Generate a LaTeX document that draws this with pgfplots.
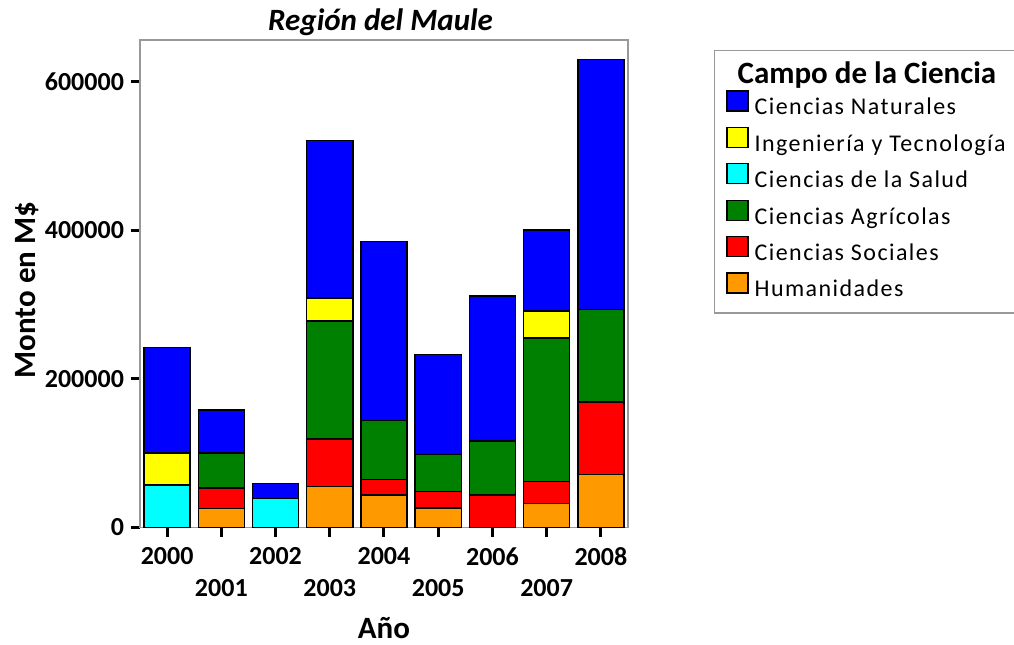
\documentclass[border=0pt]{standalone}
\usepackage{fontspec}
\setmainfont{Carlito}
\newfontfamily\legfont[LetterSpace=6]{Carlito}
\usepackage{pgfplots}
\pgfplotsset{compat=1.18}
\definecolor{cnat}{RGB}{0,0,255}
\definecolor{cing}{RGB}{255,255,0}
\definecolor{csal}{RGB}{0,255,255}
\definecolor{cagr}{RGB}{0,128,0}
\definecolor{csoc}{RGB}{255,0,0}
\definecolor{chum}{RGB}{255,153,0}
\begin{document}
\begin{tikzpicture}
\path[use as bounding box] (-70pt,-58.25pt) rectangle (437pt,263.75pt);
\begin{axis}[
  at={(0,0)}, anchor=south west,
  scale only axis, width=244pt, height=243.75pt,
  ybar stacked, bar width=0.85,
  xmin=-0.5, xmax=8.5, ymin=0, ymax=656000,
  xtick={0,...,8},
  xticklabels={2000,{\vphantom{0}\\2001},2002,{\vphantom{0}\\2003},2004,{\vphantom{0}\\2005},2006,{\vphantom{0}\\2007},2008},
  xticklabel style={align=center, yshift=-2pt, font=\bfseries\fontsize{13}{16}\selectfont},
  ytick={0,200000,400000,600000}, scaled y ticks=false,
  yticklabel style={font=\bfseries\fontsize{13}{15.5}\selectfont, /pgf/number format/fixed, /pgf/number format/1000 sep={}},
  /pgf/number format/assume math mode=true,
  axis line style={draw=gray!80, line width=0.6pt},
  tick style={black, line width=1.5pt},
  major tick length=4.5pt,
  tick align=outside, xtick pos=bottom, ytick pos=left,
  title={\bfseries\itshape Región del Maule},
  title style={at={(axis description cs:0.493,1.011)}, anchor=center, font=\fontsize{15.5}{18}\selectfont},
  xlabel={\bfseries Año},
  xlabel style={at={(axis description cs:0.5,-0.206)}, anchor=center, font=\fontsize{15.5}{18}\selectfont},
  ylabel={\bfseries Monto en M\$},
  ylabel style={at={(axis description cs:-0.232,0.487)}, anchor=center, font=\fontsize{15.5}{18}\selectfont},
  every axis plot/.append style={draw=black, line width=0.75pt},
  reverse legend,
  legend cell align=left,
  legend image code/.code={\draw[#1, draw=black, line width=0.6pt] (0pt,-1pt) rectangle (10.5pt,9pt);},
  legend style={at={(rel axis cs:1.176,0.9795)}, anchor=north west, draw=gray!80, line width=0.6pt,
    inner xsep=6pt, inner ysep=5pt, row sep=2.9pt, column sep=3pt,
    nodes={inner sep=0pt, text height=9pt, text depth=3pt, font=\legfont\fontsize{12}{14}\selectfont}},
]
\addplot[fill=chum] coordinates {(0,0) (1,25500) (2,0) (3,55000) (4,43500) (5,26000) (6,0) (7,32000) (8,71000)};
\addlegendentry{Humanidades}
\addplot[fill=csoc] coordinates {(0,0) (1,27500) (2,0) (3,64000) (4,21000) (5,22500) (6,43500) (7,30000) (8,98000)};
\addlegendentry{Ciencias Sociales}
\addplot[fill=cagr] coordinates {(0,0) (1,47500) (2,0) (3,159000) (4,79500) (5,50000) (6,73000) (7,193000) (8,124500)};
\addlegendentry{Ciencias Agrícolas}
\addplot[fill=csal] coordinates {(0,57000) (1,0) (2,39000) (3,0) (4,0) (5,0) (6,0) (7,0) (8,0)};
\addlegendentry{Ciencias de la Salud}
\addplot[fill=cing] coordinates {(0,43000) (1,0) (2,0) (3,31000) (4,0) (5,0) (6,0) (7,36500) (8,0)};
\addlegendentry{Ingeniería y Tecnología}
\addplot[fill=cnat] coordinates {(0,142000) (1,57500) (2,20500) (3,212000) (4,241000) (5,134000) (6,195000) (7,109000) (8,336000)};
\addlegendentry{Ciencias Naturales}
\addlegendimage{empty legend}
\addlegendentry{\hspace*{-8.5pt}\raisebox{-2.5pt}{\normalfont\bfseries\fontsize{15.5}{18}\selectfont Campo de la Ciencia}}
\end{axis}
\end{tikzpicture}
\end{document}
